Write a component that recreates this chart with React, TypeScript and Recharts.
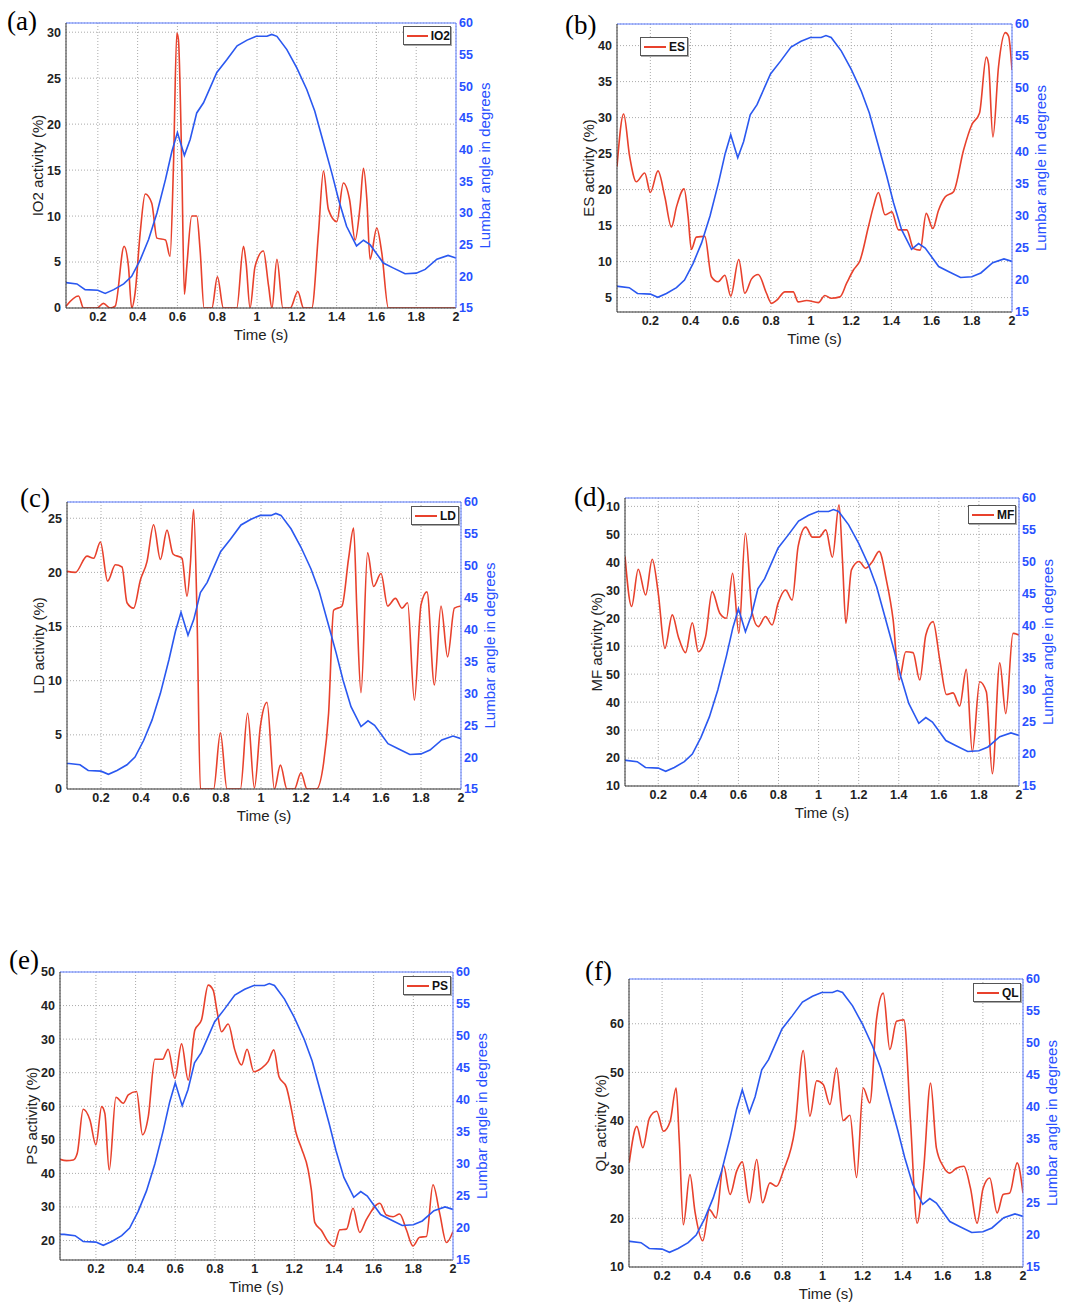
import React from "react";
import { LineChart, Line, XAxis, YAxis, CartesianGrid, Legend, Label } from "recharts";

const timeTicks = [0.2, 0.4, 0.6, 0.8, 1, 1.2, 1.4, 1.6, 1.8, 2];
const angleTicks = [15, 20, 25, 30, 35, 40, 45, 50, 55, 60];

// lumbar angle (deg) vs time (s), same trial in all six panels
const lumbarAngle = [
  [0.02, 19.0], [0.04, 19.0], [0.095, 18.8], [0.136, 17.9], [0.2, 17.8], [0.237, 17.3], [0.28, 17.9],
  [0.33, 18.8], [0.37, 20.0], [0.413, 22.6], [0.455, 25.8], [0.497, 30.0], [0.54, 35.3],
  [0.572, 39.7], [0.6, 42.7], [0.635, 39.1], [0.664, 41.6], [0.697, 45.8], [0.731, 47.4],
  [0.798, 52.2], [0.848, 54.2], [0.9, 56.4], [0.95, 57.3], [0.996, 57.9], [1.05, 57.9],
  [1.074, 58.2], [1.1, 57.9], [1.15, 55.8], [1.2, 52.9], [1.25, 49.5], [1.29, 46.1],
  [1.334, 41.1], [1.376, 36.3], [1.41, 32.1], [1.45, 27.9], [1.5, 24.8], [1.535, 25.7],
  [1.568, 25.0], [1.635, 22.1], [1.686, 21.3], [1.744, 20.4], [1.8, 20.5], [1.845, 21.1],
  [1.904, 22.7], [1.96, 23.3], [2.0, 22.9],
];

const io2Activity = [
  [0.04, 0.2], [0.103, 1.3], [0.128, 0], [0.195, 0], [0.228, 0.5], [0.262, 0], [0.287, 0.2],
  [0.332, 6.7], [0.354, 4.5], [0.37, 0], [0.387, 1.6], [0.413, 8.2], [0.438, 12.4], [0.471, 11.4],
  [0.497, 7.6], [0.54, 7.4], [0.563, 5.6], [0.58, 15.4], [0.597, 29.9], [0.605, 29.2], [0.622, 15.4],
  [0.635, 1.5], [0.647, 4.5], [0.672, 10.0], [0.697, 10.0], [0.714, 6.3], [0.734, 0], [0.773, 0],
  [0.801, 3.4], [0.831, 0], [0.898, 0], [0.932, 6.7], [0.945, 4.9], [0.965, 0], [0.99, 4.5],
  [1.032, 6.2], [1.058, 2.4], [1.075, 0], [1.1, 5.3], [1.13, 0], [1.167, 0], [1.205, 1.8],
  [1.234, 0], [1.275, 0], [1.309, 8.2], [1.334, 14.9], [1.359, 10.7], [1.401, 9.4], [1.434, 13.6],
  [1.465, 11.8], [1.493, 7.4], [1.518, 11.1], [1.535, 15.2], [1.552, 11.8], [1.568, 5.3],
  [1.602, 8.7], [1.627, 6.0], [1.66, 0], [2.0, 0],
];

const esActivity = [
  [0.034, 23.2], [0.067, 30.5], [0.097, 24.6], [0.13, 21.1], [0.172, 22.3], [0.2, 19.6], [0.238, 22.6],
  [0.272, 19.0], [0.305, 14.8], [0.33, 17.6], [0.368, 20.1], [0.388, 16.2], [0.404, 11.7],
  [0.429, 13.4], [0.471, 13.5], [0.504, 7.9], [0.537, 7.2], [0.571, 8.1], [0.6, 5.2], [0.64, 10.3],
  [0.67, 5.6], [0.704, 7.6], [0.737, 8.2], [0.778, 5.6], [0.803, 4.2], [0.828, 4.6], [0.87, 5.8],
  [0.911, 5.8], [0.936, 4.4], [0.978, 4.6], [1.036, 4.3], [1.069, 5.3], [1.1, 4.9], [1.144, 5.1],
  [1.177, 7.0], [1.21, 8.8], [1.244, 10.2], [1.285, 14.8], [1.31, 17.6], [1.335, 19.6],
  [1.368, 16.5], [1.402, 16.9], [1.435, 14.4], [1.476, 14.4], [1.51, 11.8], [1.543, 11.6],
  [1.573, 16.7], [1.606, 14.6], [1.634, 17.1], [1.668, 19.0], [1.709, 19.7], [1.759, 25.5],
  [1.8, 29.0], [1.838, 30.6], [1.872, 38.4], [1.883, 37.5], [1.905, 27.3], [1.933, 37.1],
  [1.967, 41.8], [1.983, 41.3], [2.0, 36.6],
];

const ldActivity = [
  [0.03, 20.1], [0.072, 20.0], [0.13, 21.5], [0.163, 21.3], [0.197, 22.8], [0.233, 19.2], [0.272, 20.7],
  [0.305, 20.5], [0.33, 17.2], [0.363, 16.7], [0.397, 19.3], [0.43, 21.0], [0.463, 24.4],
  [0.497, 21.2], [0.53, 23.9], [0.56, 21.7], [0.605, 21.3], [0.63, 17.8], [0.647, 20.8],
  [0.663, 25.8], [0.68, 16.2], [0.697, 0], [0.763, 0], [0.797, 5.2], [0.83, 0], [0.897, 0],
  [0.933, 7.0], [0.967, 0.1], [0.997, 5.8], [1.03, 8.0], [1.067, 0], [1.097, 2.2], [1.13, 0],
  [1.167, 0], [1.2, 1.5], [1.23, 0], [1.277, 0], [1.313, 2.4], [1.338, 7.0], [1.363, 16.5],
  [1.405, 16.9], [1.438, 21.3], [1.463, 24.1], [1.48, 16.2], [1.5, 8.9], [1.533, 21.8],
  [1.563, 18.7], [1.6, 19.9], [1.633, 16.9], [1.672, 17.6], [1.705, 16.7], [1.733, 17.2],
  [1.767, 8.2], [1.8, 17.0], [1.83, 18.2], [1.867, 9.6], [1.9, 16.9], [1.933, 12.2],
  [1.967, 16.7], [2.0, 16.9],
];

// MF and PS: values on the running scale of their (misprinted) left axes
const mfActivity = [
  [0.034, 92.1], [0.067, 74.2], [0.1, 87.5], [0.137, 78.3], [0.17, 91.1], [0.2, 78.9], [0.233, 59.2],
  [0.27, 71.2], [0.3, 63.4], [0.336, 57.7], [0.37, 68.4], [0.4, 58.0], [0.436, 63.4], [0.469, 79.5],
  [0.507, 71.8], [0.54, 70.0], [0.571, 86.1], [0.602, 64.6], [0.635, 100.4], [0.669, 71.8],
  [0.699, 67.0], [0.735, 70.6], [0.768, 67.6], [0.798, 75.4], [0.835, 80.1], [0.868, 76.5],
  [0.898, 95.7], [0.936, 102.6], [0.969, 99.0], [1.003, 99.0], [1.036, 101.6], [1.069, 91.8],
  [1.102, 110.6], [1.119, 90.9], [1.136, 68.2], [1.164, 87.3], [1.202, 90.3], [1.235, 87.9],
  [1.269, 90.3], [1.302, 93.9], [1.338, 83.7], [1.372, 69.4], [1.402, 47.9], [1.435, 58.0],
  [1.471, 57.7], [1.505, 47.9], [1.535, 64.0], [1.571, 68.8], [1.605, 55.0], [1.638, 42.7],
  [1.671, 43.3], [1.704, 38.6], [1.737, 51.7], [1.767, 22.2], [1.804, 47.3], [1.837, 43.7],
  [1.867, 14.4], [1.904, 54.1], [1.934, 35.9], [1.97, 64.6], [2.0, 64.0],
];

const psActivity = [
  [0.019, 44.2], [0.052, 43.8], [0.086, 44.0], [0.106, 46.0], [0.136, 59.1], [0.17, 55.9], [0.2, 48.5],
  [0.229, 59.9], [0.245, 57.9], [0.267, 41.0], [0.301, 62.7], [0.338, 60.9], [0.363, 63.4],
  [0.405, 64.4], [0.435, 51.5], [0.464, 56.9], [0.497, 74.0], [0.536, 74.0], [0.564, 77.0],
  [0.598, 68.3], [0.632, 78.6], [0.665, 67.8], [0.699, 82.7], [0.732, 85.7], [0.766, 96.1],
  [0.791, 94.6], [0.811, 88.2], [0.833, 82.2], [0.867, 84.5], [0.9, 76.8], [0.934, 72.3],
  [0.962, 77.0], [0.996, 70.3], [1.034, 71.3], [1.068, 73.3], [1.097, 76.8], [1.123, 68.8],
  [1.16, 65.7], [1.186, 58.9], [1.207, 52.5], [1.236, 47.5], [1.27, 41.0], [1.286, 35.1],
  [1.303, 25.4], [1.337, 23.0], [1.37, 19.7], [1.4, 18.2], [1.429, 23.2], [1.463, 23.4],
  [1.496, 29.6], [1.53, 22.4], [1.563, 26.2], [1.631, 31.1], [1.664, 27.6], [1.698, 27.1],
  [1.731, 27.9], [1.765, 23.2], [1.798, 18.4], [1.832, 21.0], [1.866, 21.2], [1.899, 36.6],
  [1.933, 28.1], [1.967, 19.4], [2.0, 22.7],
];

const qlActivity = [
  [0.036, 31.4], [0.074, 38.9], [0.104, 34.5], [0.137, 40.6], [0.173, 42.0], [0.207, 37.9], [0.24, 39.9],
  [0.27, 46.8], [0.286, 35.8], [0.306, 18.7], [0.339, 29.0], [0.364, 21.4], [0.403, 15.4],
  [0.436, 21.8], [0.469, 20.1], [0.506, 30.9], [0.539, 24.9], [0.572, 29.7], [0.6, 31.6],
  [0.635, 23.2], [0.672, 32.1], [0.701, 23.2], [0.738, 27.3], [0.771, 26.6], [0.804, 29.7],
  [0.863, 38.6], [0.904, 54.5], [0.937, 41.0], [0.971, 48.3], [1.004, 47.5], [1.037, 43.4],
  [1.07, 50.9], [1.103, 40.1], [1.137, 41.2], [1.17, 28.4], [1.203, 46.8], [1.236, 43.7],
  [1.269, 60.8], [1.303, 66.3], [1.336, 54.7], [1.369, 60.5], [1.406, 60.8], [1.439, 39.9],
  [1.472, 19.0], [1.505, 30.3], [1.539, 47.8], [1.568, 34.5], [1.602, 30.7], [1.635, 29.3],
  [1.668, 30.3], [1.705, 30.7], [1.738, 26.2], [1.771, 19.0], [1.801, 26.2], [1.834, 28.3],
  [1.871, 21.1], [1.901, 24.9], [1.934, 25.2], [1.971, 31.4], [2.0, 25.2],
];

const io2Ticks = [0, 5, 10, 15, 20, 25, 30];
const esTicks = [5, 10, 15, 20, 25, 30, 35, 40];
const ldTicks = [0, 5, 10, 15, 20, 25];
const mfTicks = [10, 20, 30, 40, 50, 60, 70, 80, 90, 100, 110];
const mfTickLabels = ["10", "20", "30", "40", "50", "10", "20", "30", "40", "50", "10"];
const psTicks = [20, 30, 40, 50, 60, 70, 80, 90, 100];
const psTickLabels = ["20", "30", "40", "50", "60", "20", "30", "40", "50"];
const qlTicks = [10, 20, 30, 40, 50, 60];

const RED = "#e8412c";
const BLUE = "#2a58f0";
const BLUE_TEXT = "#2850ff";
const AXIS_BLUE = "#5b7bff";
const FONT = "'Liberation Sans', Arial, sans-serif";
const LW = 56;
const RW = 58;
const TH = 20;
const BH = 54;

const toRows = (pairs) => pairs.map(([t, v]) => ({ t, v }));

const panels = [
  { letter: "(a)", name: "IO2", data: io2Activity, ticks: io2Ticks, labels: null, yDomain: [0, 31], xMin: 0.04,
    box: [66, 23, 456, 308], legend: [337, 3], tag: [7, 8] },
  { letter: "(b)", name: "ES", data: esActivity, ticks: esTicks, labels: null, yDomain: [3, 43], xMin: 0.034,
    box: [617, 24, 1012, 312], legend: [23, 13], tag: [565, 12] },
  { letter: "(c)", name: "LD", data: ldActivity, ticks: ldTicks, labels: null, yDomain: [0, 26.5], xMin: 0.03,
    box: [67, 502, 461, 789], legend: [344, 4], tag: [20, 485] },
  { letter: "(d)", name: "MF", data: mfActivity, ticks: mfTicks, labels: mfTickLabels, yDomain: [10, 113], xMin: 0.034,
    box: [625, 498, 1019, 786], legend: [343, 7], tag: [574, 484] },
  { letter: "(e)", name: "PS", data: psActivity, ticks: psTicks, labels: psTickLabels, yDomain: [14.2, 100], xMin: 0.019,
    box: [60, 972, 453, 1260], legend: [343, 4], tag: [9, 947] },
  { letter: "(f)", name: "QL", data: qlActivity, ticks: qlTicks, labels: null, yDomain: [10, 69.2], xMin: 0.035,
    box: [629, 979, 1023, 1267], legend: [344, 4], tag: [585, 958] },
];

const LegendBox = ({ name }) => (
  <div
    style={{
      width: 46, height: 17, background: "#fff", border: "1px solid #555",
      boxShadow: "1px 1px 0 #aaa", display: "flex", alignItems: "center",
      fontFamily: FONT, fontSize: 12, fontWeight: "bold", color: "#111",
    }}
  >
    <div style={{ width: 22, height: 2, background: RED, marginLeft: 3, marginRight: 3 }} />
    {name}
  </div>
);

function Panel({ p }) {
  const [L, T, R, B] = p.box;
  const w = R - L + LW + RW;
  const h = B - T + TH + BH;
  const tickStyle = { fill: "#222", fontSize: 12.5, fontWeight: "bold", fontFamily: FONT };
  const blueTick = { ...tickStyle, fill: BLUE_TEXT };
  const fmt = p.labels ? (v) => p.labels[p.ticks.indexOf(v)] ?? "" : undefined;
  return (
    <>
      <div style={{ position: "absolute", left: p.tag[0], top: p.tag[1], fontFamily: "'Liberation Serif', serif", fontSize: 27, lineHeight: "27px" }}>
        {p.letter}
      </div>
      <div style={{ position: "absolute", left: L - LW, top: T - TH }}>
        <LineChart width={w} height={h} margin={{ top: 0, right: 0, bottom: 0, left: 0 }}>
          <CartesianGrid xAxisId="b" yAxisId="l" stroke="#aaa" strokeDasharray="1 2" />
          <XAxis xAxisId="b" type="number" dataKey="t" domain={[p.xMin, 2]} ticks={timeTicks} interval={0}
            allowDataOverflow height={BH} tickSize={0} tickMargin={4} tick={tickStyle}
            axisLine={{ stroke: "#333" }}>
            <Label value="Time (s)" position="center" style={{ fontFamily: FONT, fontSize: 15, fill: "#222" }} />
          </XAxis>
          <XAxis xAxisId="t" orientation="top" type="number" domain={[p.xMin, 2]} ticks={timeTicks} interval={0}
            allowDataOverflow height={TH} tickSize={0} tickMargin={3} tick={blueTick}
            axisLine={{ stroke: AXIS_BLUE }} />
          <YAxis yAxisId="l" domain={p.yDomain} ticks={p.ticks} interval={0} allowDataOverflow width={LW}
            tickSize={0} tickMargin={5} tick={tickStyle} tickFormatter={fmt} axisLine={{ stroke: "#333" }}>
            <Label value={`${p.name} activity (%)`} angle={-90} position="center"
              style={{ fontFamily: FONT, fontSize: 15, fill: "#222" }} />
          </YAxis>
          <YAxis yAxisId="r" orientation="right" domain={[15, 60]} ticks={angleTicks} interval={0} allowDataOverflow
            width={RW} tickSize={0} tickMargin={3} tick={blueTick} axisLine={{ stroke: AXIS_BLUE }}>
            <Label value="Lumbar angle in degrees" angle={-90} position="center"
              style={{ fontFamily: FONT, fontSize: 15, fill: BLUE_TEXT }} />
          </YAxis>
          <Legend layout="horizontal" verticalAlign="middle" align="center" width={48} height={19}
            wrapperStyle={{ left: LW + p.legend[0], top: TH + p.legend[1], width: 48, height: 19 }}
            content={() => <LegendBox name={p.name} />} />
          <Line xAxisId="b" yAxisId="l" data={toRows(p.data)} dataKey="v" name={p.name} type="monotone"
            stroke={RED} strokeWidth={1.6} dot={false} isAnimationActive={false} />
          <Line xAxisId="b" yAxisId="r" data={toRows(lumbarAngle)} dataKey="v" name="Lumbar" type="linear"
            stroke={BLUE} strokeWidth={1.6} dot={false} isAnimationActive={false} legendType="none" />
        </LineChart>
      </div>
    </>
  );
}

export default function App() {
  return (
    <div style={{ position: "absolute", left: 0, top: 0, width: 1078, height: 1311, background: "#fff" }}>
      {panels.map((p) => (
        <Panel key={p.letter} p={p} />
      ))}
    </div>
  );
}
